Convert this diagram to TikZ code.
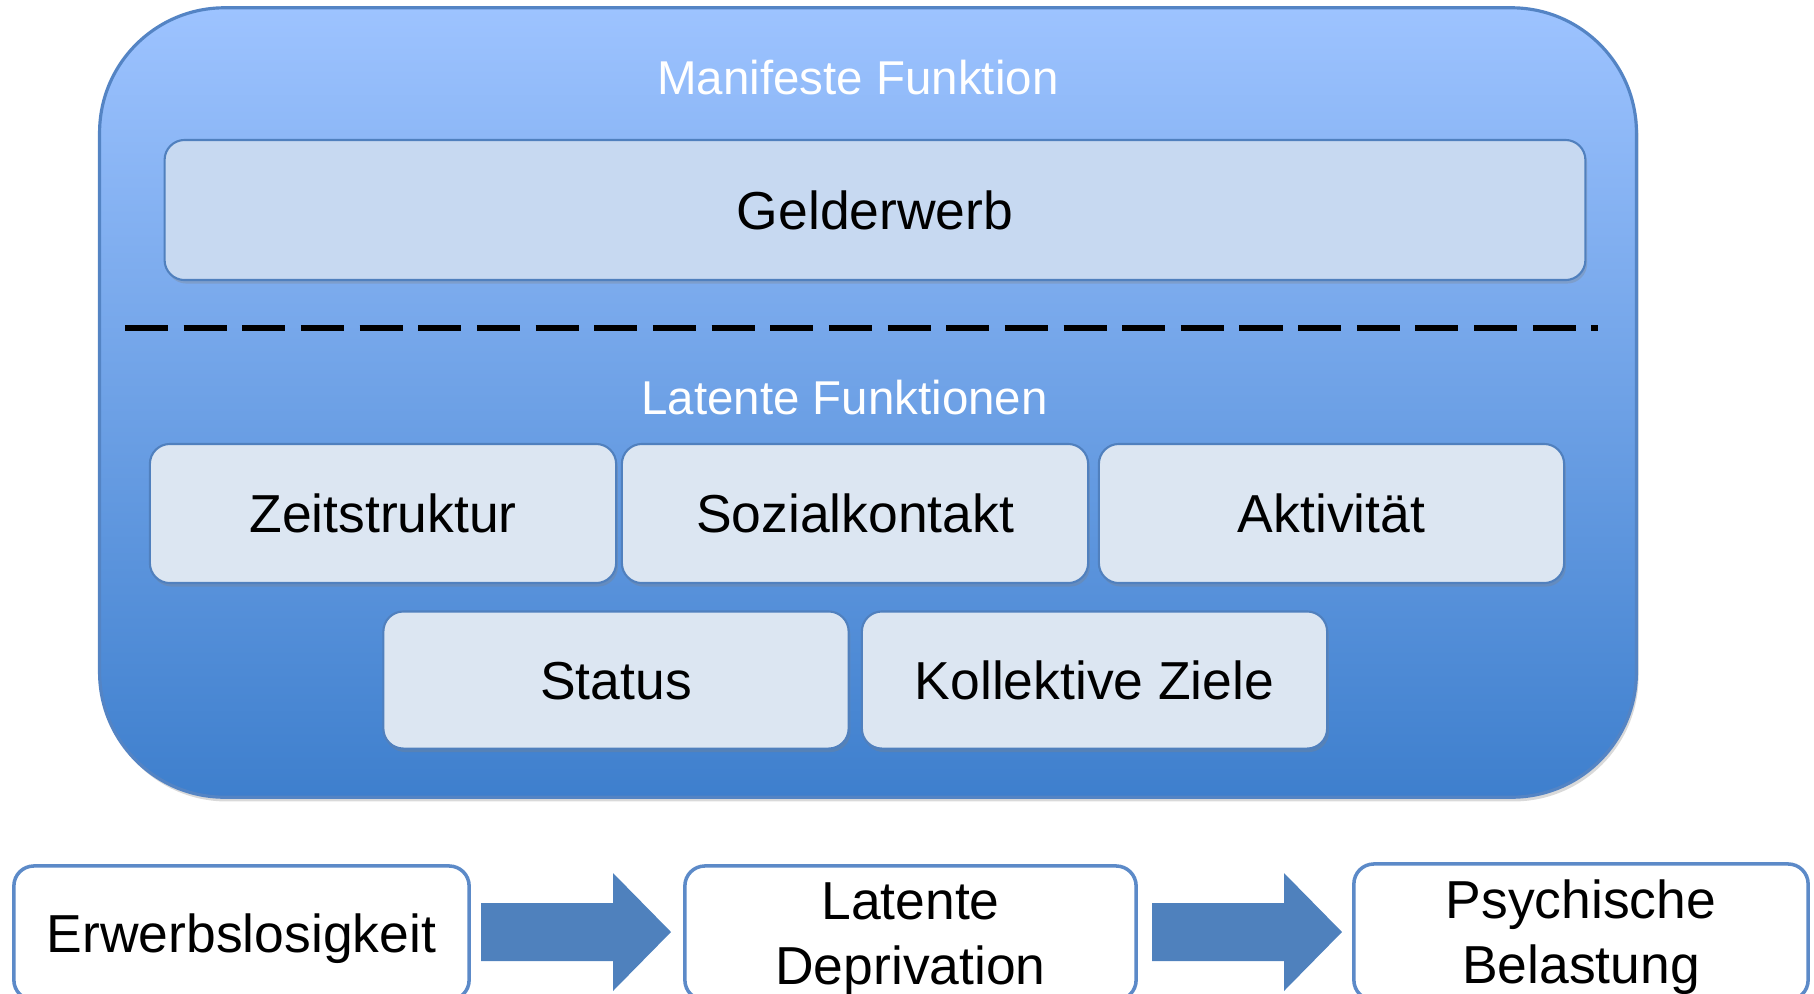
\documentclass[tikz,border=0pt]{standalone}
\usepackage{fontspec}
\setmainfont{Liberation Sans}
\usetikzlibrary{shadows}
\definecolor{outerTop}{RGB}{157,195,255}
\definecolor{outerBot}{RGB}{62,127,205}
\definecolor{outerLine}{RGB}{84,132,196}
\definecolor{innerLine}{RGB}{80,128,190}
\definecolor{gelFill}{RGB}{199,217,241}
\definecolor{latFill}{RGB}{220,230,242}
\definecolor{arrowBlue}{RGB}{79,129,189}
\definecolor{botLine}{RGB}{92,138,200}
\begin{document}
\begin{tikzpicture}[x=0.01cm,y=-0.01cm,
  outerbox/.style={draw=outerLine, line width=0.9pt, rounded corners=1.25cm,
    top color=outerTop, bottom color=outerBot,
    minimum width=15.36cm, minimum height=7.89cm, inner sep=0pt,
    drop shadow={shadow xshift=0.6pt, shadow yshift=-1.2pt, opacity=0.3}},
  boxtext/.style={font=\fontsize{15.2pt}{18.5pt}\selectfont, text=black,
    text height=10.9pt, text depth=0pt, inner sep=0pt},
  inbox/.style={boxtext, draw=innerLine, line width=0.6pt, rounded corners=0.2cm,
    minimum height=1.39cm, minimum width=4.66cm,
    drop shadow={shadow xshift=0.5pt, shadow yshift=-1pt, opacity=0.3}},
  titletext/.style={font=\fontsize{13.5pt}{16pt}\selectfont, text=white, inner sep=0pt, anchor=base},
  botbox/.style={draw=botLine, line width=1pt, fill=white, rounded corners=0.2cm,
    minimum height=1.34cm, inner sep=0pt},
  bottext/.style={font=\fontsize{15.2pt}{18.5pt}\selectfont, text=black, align=center, inner sep=0pt},
  blockarrow/.style={fill=arrowBlue, draw=none}
]
\useasboundingbox (0,0) rectangle (1814,993);
\clip (0,0) rectangle (1814,993);

% outer container
\node[outerbox] (outer) at (868,402.5) {};

% manifest function
\node[titletext] (manT) at (858,94) {Manifeste Funktion};
\node[inbox, fill=gelFill, minimum width=14.2cm, minimum height=1.4cm] (geld) at (875,210) {Gelderwerb};

% dashed separator
\coordinate (dl) at (125,328);
\coordinate (dr) at (1598,328);
\draw[black, line width=1.7pt, dash pattern=on 12.23pt off 4.45pt] (dl) -- (dr);

% latent functions
\node[titletext] (latF) at (844.5,414) {Latente Funktionen};
\node[inbox, fill=latFill] (zeit) at (383,513.5) {Zeitstruktur};
\node[inbox, fill=latFill] (sozi) at (855,513.5) {Sozialkontakt};
\node[inbox, fill=latFill, minimum width=4.65cm] (akti) at (1331.5,513.5) {Aktivität};
\node[inbox, fill=latFill, minimum width=4.65cm, minimum height=1.37cm] (stat) at (616,680) {Status};
\node[inbox, fill=latFill, minimum width=4.65cm, minimum height=1.37cm] (koll) at (1094.5,680) {Kollektive Ziele};

% bottom process row
\node[botbox, boxtext, minimum width=4.55cm] (erw) at (241.5,933) {Erwerbslosigkeit};
\node[botbox, minimum width=4.51cm] (lat) at (910.5,933) {};
\node[bottext] (latT) at (910.5,939) {Latente\\Deprivation};
\node[botbox, minimum width=4.54cm, minimum height=1.36cm] (psy) at (1581,932) {};
\node[bottext] (psyT) at (1581,937) {Psychische\\Belastung};

% block arrows
\path[blockarrow] (481,903) -- (613,903) -- (613,873) -- (671,932) -- (613,991) -- (613,961) -- (481,961) -- cycle;
\path[blockarrow] (1152,903) -- (1284,903) -- (1284,873) -- (1342,932) -- (1284,991) -- (1284,961) -- (1152,961) -- cycle;
\end{tikzpicture}
\end{document}
